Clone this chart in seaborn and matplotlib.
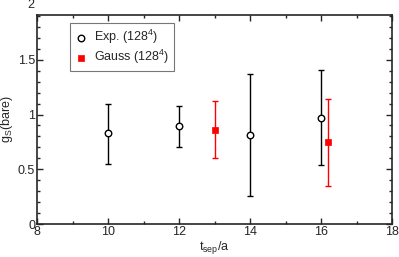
import matplotlib
matplotlib.use("Agg")
import matplotlib.pyplot as plt
import seaborn as sns
import pandas as pd
from matplotlib.ticker import MultipleLocator

# data
exp_t = [10, 12, 14, 16]
exp_val = [0.827, 0.894, 0.81, 0.97]
exp_lo = [0.552, 0.706, 0.255, 0.536]
exp_hi = [1.097, 1.075, 1.366, 1.403]

gauss_t = [13, 16.2]
gauss_val = [0.857, 0.748]
gauss_lo = [0.60, 0.348]
gauss_hi = [1.12, 1.145]

sns.set_style("ticks")
plt.rcParams['font.family'] = ['Liberation Sans', 'DejaVu Sans']
plt.rcParams['mathtext.fontset'] = 'custom'
plt.rcParams['mathtext.rm'] = 'Liberation Sans'
plt.rcParams['mathtext.it'] = 'Liberation Sans'

fig = plt.figure(figsize=(3.99, 2.57), dpi=100)
ax = fig.add_axes([0.0935, 0.1284, 0.8890, 0.8144])

df_exp = pd.DataFrame({"t": exp_t, "v": exp_val})
df_g = pd.DataFrame({"t": gauss_t, "v": gauss_val})

ax.errorbar(exp_t, exp_val,
            yerr=[[v - l for v, l in zip(exp_val, exp_lo)], [h - v for v, h in zip(exp_val, exp_hi)]],
            fmt='none', ecolor='black', elinewidth=1.0, capsize=2.5, capthick=1.0, zorder=2)
ax.errorbar(gauss_t, gauss_val,
            yerr=[[v - l for v, l in zip(gauss_val, gauss_lo)], [h - v for v, h in zip(gauss_val, gauss_hi)]],
            fmt='none', ecolor='red', elinewidth=1.0, capsize=2.5, capthick=1.0, zorder=2)

sns.scatterplot(data=df_exp, x="t", y="v", ax=ax, marker='o', s=22,
                facecolor='white', edgecolor='black', linewidth=1.0, zorder=3,
                label=r"Exp. (128$^4$)")
sns.scatterplot(data=df_g, x="t", y="v", ax=ax, marker='s', s=24,
                color='red', edgecolor='red', linewidth=0.5, zorder=3,
                label=r"Gauss (128$^4$)")

fs = 9
ax.set_xlim(8, 18)
ax.set_ylim(0, 1.912)
ax.xaxis.set_major_locator(MultipleLocator(2))
ax.xaxis.set_minor_locator(MultipleLocator(1))
ax.set_yticks([0, 0.5, 1, 1.5])
ax.set_yticklabels(["0", "0.5", "1", "1.5"])
ax.yaxis.set_minor_locator(MultipleLocator(0.1))
ax.text(-0.008, 2.0, "2", transform=ax.get_yaxis_transform(), ha='right', va='center',
        fontsize=fs, clip_on=False)

ax.tick_params(which='both', direction='in', top=True, right=True, labelsize=fs, width=1, pad=1.5)
ax.tick_params(which='major', length=4)
ax.tick_params(which='minor', length=2)
for s in ax.spines.values():
    s.set_linewidth(1.2)

ax.set_xlabel(r"t$_{\rm sep}$/a", fontsize=fs, labelpad=1)
ax.set_ylabel(r"g$_{\rm S}$(bare)", fontsize=fs, labelpad=2)

leg = ax.legend(loc='upper left', bbox_to_anchor=(0.092, 0.962), fontsize=9,
                frameon=True, fancybox=False, edgecolor='#555555', handletextpad=0.5,
                borderpad=0.4, labelspacing=0.15, handlelength=1.0, borderaxespad=0)
leg.get_frame().set_linewidth(0.8)

fig.savefig("out.png", dpi=100)
